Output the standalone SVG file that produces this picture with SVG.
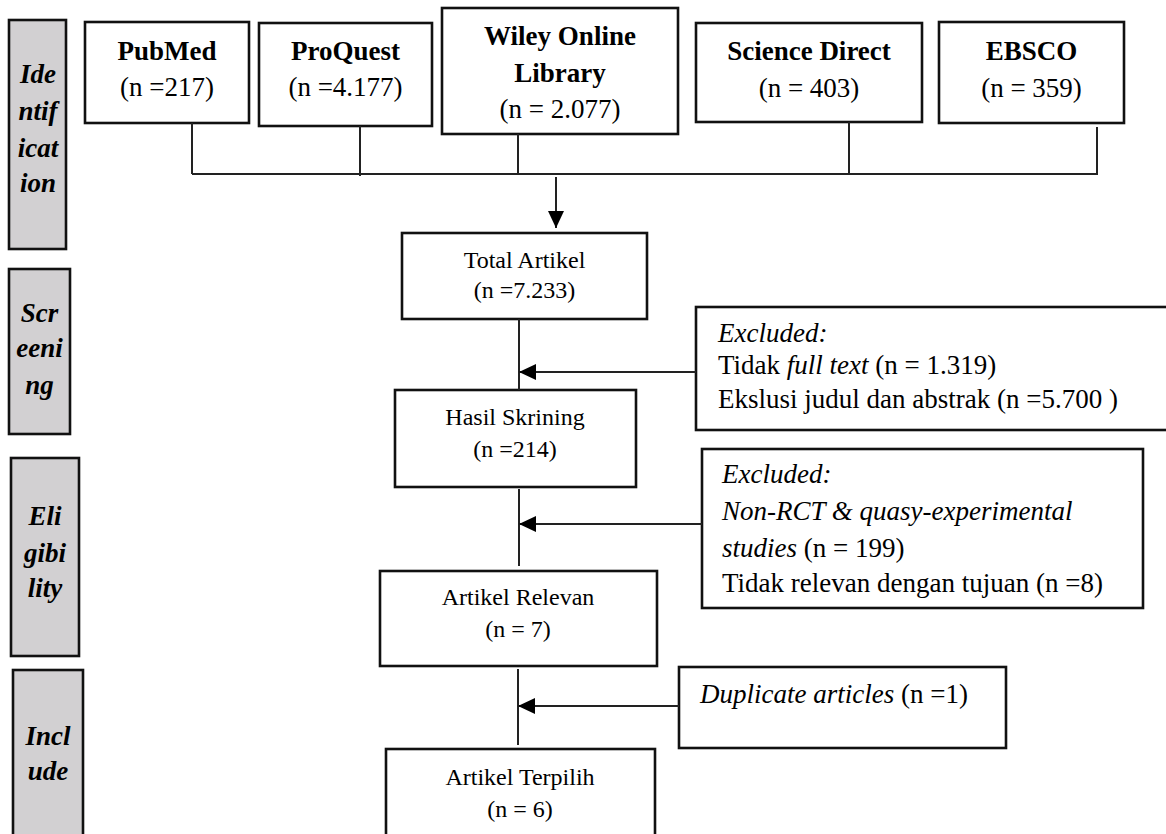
<svg xmlns="http://www.w3.org/2000/svg" width="1166" height="834" viewBox="0 0 1166 834">
<style>
.box{fill:#fff;stroke:#111;stroke-width:2.6}
.phase{fill:#d2d0d2;stroke:#111;stroke-width:2.6}
.ph{font-family:"Liberation Serif","Times New Roman",serif;font-size:27px;font-weight:bold;font-style:italic;fill:#000;text-anchor:middle}
.src{font-family:"Liberation Serif","Times New Roman",serif;font-size:27px;fill:#000;text-anchor:middle}
.b{font-weight:bold}
.mid{font-family:"Liberation Serif","Times New Roman",serif;font-size:24px;fill:#000;text-anchor:middle}
.ex{font-family:"Liberation Serif","Times New Roman",serif;font-size:27px;fill:#000}
.i{font-style:italic}
.ln{fill:none;stroke:#222;stroke-width:2}
</style>
<defs>
<marker id="ah" viewBox="0 0 17 16" refX="17" refY="8" markerWidth="17" markerHeight="16" markerUnits="userSpaceOnUse" orient="auto">
<path d="M0,0 L17,8 L0,16 z" fill="#000"/>
</marker>
</defs>

<g id="phase-identification">
<rect class="phase" x="9" y="20" width="57" height="229"/>
<text class="ph" x="38" y="83">Ide</text>
<text class="ph" x="38" y="120">ntif</text>
<text class="ph" x="38" y="157">icat</text>
<text class="ph" x="38" y="192">ion</text>
</g>
<g id="phase-screening">
<rect class="phase" x="9" y="269" width="61" height="165"/>
<text class="ph" x="39.5" y="322">Scr</text>
<text class="ph" x="39.5" y="357">eeni</text>
<text class="ph" x="39.5" y="394">ng</text>
</g>
<g id="phase-eligibility">
<rect class="phase" x="11" y="458" width="68" height="198"/>
<text class="ph" x="45" y="525">Eli</text>
<text class="ph" x="45" y="562">gibi</text>
<text class="ph" x="45" y="597">lity</text>
</g>
<g id="phase-include">
<rect class="phase" x="13" y="670" width="70" height="175"/>
<text class="ph" x="48" y="745">Incl</text>
<text class="ph" x="48" y="780">ude</text>
</g>

<g id="pubmed">
<rect class="box" x="85" y="22" width="164" height="101"/>
<text class="src b" x="167" y="60">PubMed</text>
<text class="src" x="167" y="96">(n =217)</text>
</g>
<g id="proquest">
<rect class="box" x="259" y="23" width="173" height="103"/>
<text class="src b" x="345.5" y="60">ProQuest</text>
<text class="src" x="345.5" y="96">(n =4.177)</text>
</g>
<g id="wiley">
<rect class="box" x="442" y="8" width="236" height="126"/>
<text class="src b" x="560" y="45">Wiley Online</text>
<text class="src b" x="560" y="82">Library</text>
<text class="src" x="560" y="118">(n = 2.077)</text>
</g>
<g id="sciencedirect">
<rect class="box" x="696" y="23" width="226" height="99"/>
<text class="src b" x="809" y="60">Science Direct</text>
<text class="src" x="809" y="97">(n = 403)</text>
</g>
<g id="ebsco">
<rect class="box" x="939" y="22" width="185" height="101"/>
<text class="src b" x="1031.5" y="60">EBSCO</text>
<text class="src" x="1031.5" y="97">(n = 359)</text>
</g>

<g id="total">
<rect class="box" x="402" y="233" width="245" height="86"/>
<text class="mid" x="524.5" y="268">Total Artikel</text>
<text class="mid" x="524.5" y="298">(n =7.233)</text>
</g>
<g id="hasil">
<rect class="box" x="395" y="390" width="241" height="97"/>
<text class="mid" x="515" y="425">Hasil Skrining</text>
<text class="mid" x="515" y="457">(n =214)</text>
</g>
<g id="relevan">
<rect class="box" x="380" y="571" width="277" height="95"/>
<text class="mid" x="518" y="605">Artikel Relevan</text>
<text class="mid" x="518" y="637">(n = 7)</text>
</g>
<g id="terpilih">
<rect class="box" x="386" y="749" width="269" height="100"/>
<text class="mid" x="520" y="785">Artikel Terpilih</text>
<text class="mid" x="520" y="817">(n = 6)</text>
</g>

<g id="excluded-screening">
<rect class="box" x="696" y="307" width="480" height="123"/>
<text class="ex i" x="718" y="342">Excluded:</text>
<text class="ex" x="718" y="374">Tidak <tspan class="i">full text</tspan> (n = 1.319)</text>
<text class="ex" x="718" y="408">Ekslusi judul dan abstrak (n =5.700 )</text>
</g>
<g id="excluded-eligibility">
<rect class="box" x="702" y="449" width="441" height="159"/>
<text class="ex i" x="722" y="483">Excluded:</text>
<text class="ex i" x="722" y="520">Non-RCT &amp; quasy-experimental</text>
<text class="ex" x="722" y="557"><tspan class="i">studies</tspan> (n = 199)</text>
<text class="ex" x="722" y="592">Tidak relevan dengan tujuan (n =8)</text>
</g>
<g id="duplicate">
<rect class="box" x="679" y="667" width="327" height="81"/>
<text class="ex" x="700" y="703"><tspan class="i">Duplicate articles</tspan> (n =1)</text>
</g>

<g id="connectors">
<path class="ln" d="M192 123 V174 M360 126 V176 M518 134 V174 M849 122 V174 M1097 127 V175 M192 174 H1097"/>
<path class="ln" d="M556 177 V228" marker-end="url(#ah)"/>
<path class="ln" d="M519 319 V390"/>
<path class="ln" d="M519 489 V566"/>
<path class="ln" d="M518 669 V745"/>
<path class="ln" d="M696 372 H519" marker-end="url(#ah)"/>
<path class="ln" d="M702 524 H519" marker-end="url(#ah)"/>
<path class="ln" d="M679 706 H518" marker-end="url(#ah)"/>
</g>
</svg>
